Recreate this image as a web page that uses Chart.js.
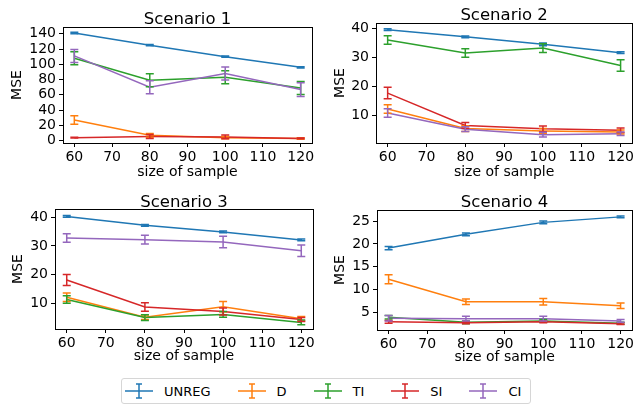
<!DOCTYPE html>
<html>
<head>
<meta charset="utf-8">
<script src="https://cdn.jsdelivr.net/npm/chart.js@4.4.1/dist/chart.umd.min.js"></script>
<style>
  body { margin:0; background:#fff; width:636px; height:405px; overflow:hidden; position:relative; font-family:"DejaVu Sans", sans-serif; }
  .pane { position:absolute; width:318px; height:185px; }
  #legend { position:absolute; left:121px; top:378px; width:405px; height:24px; border:1px solid #d6d6d6; border-radius:3px;
            display:flex; align-items:center; padding-left:3px; box-sizing:content-box; font-size:13px; color:#000; }
  .item { display:flex; align-items:center; margin-right:27px; }
  .item svg { margin-right:11px; }
</style>
</head>
<body>
<div class="pane" style="left:0;top:0"><canvas id="c1"></canvas></div>
<div class="pane" style="left:318px;top:0"><canvas id="c2"></canvas></div>
<div class="pane" style="left:0;top:185px"><canvas id="c3"></canvas></div>
<div class="pane" style="left:318px;top:185px"><canvas id="c4"></canvas></div>
<div id="legend"></div>
<script>
// data
const sampleSizes = [60, 80, 100, 120];
const methods = ['UNREG', 'D', 'TI', 'SI', 'CI'];
const colors = ['#1f77b4', '#ff7f0e', '#2ca02c', '#d62728', '#9467bd'];
const xTicks = [60, 70, 80, 90, 100, 110, 120];

// rows follow `methods`
const s1Values = [[141, 125, 110, 96], [27, 7, 4, 3], [108, 79, 83, 69], [4, 5.5, 5, 3], [111, 70, 88, 67]];
const s1Errors = [[1, 0.8, 0.8, 0.8], [5.5, 2.5, 1.5, 1], [8.5, 8.5, 8.5, 8.5], [0.5, 2.5, 2.5, 0.5], [8.5, 8.5, 8.5, 9]];
const s1Ticks = [0, 20, 40, 60, 80, 100, 120, 140];

const s2Values = [[39.7, 37.2, 34.6, 31.7], [12.2, 5.4, 4.6, 4.2], [36.1, 31.6, 33.3, 27.3], [17.7, 6.5, 5.3, 4.8], [10.8, 5.2, 3.3, 3.6]];
const s2Errors = [[0.3, 0.3, 0.5, 0.3], [1.5, 1, 0.8, 0.7], [1.5, 1.5, 1.5, 2], [2, 1, 1, 0.8], [1.5, 0.8, 0.8, 0.6]];
const s2Ticks = [10, 20, 30, 40];

const s3Values = [[40.3, 37.2, 34.9, 32.1], [12.1, 5.1, 8.8, 4.6], [11.3, 5.0, 6.1, 3.3], [18.1, 8.7, 7.1, 4.3], [32.8, 32.2, 31.4, 28.3]];
const s3Errors = [[0.3, 0.3, 0.3, 0.3], [1.5, 0.8, 1.8, 0.8], [1.3, 1, 1, 0.8], [1.9, 1.5, 1.2, 0.7], [1.5, 1.5, 2, 2]];
const s3Ticks = [10, 20, 30, 40];

const s4Values = [[19.1, 22.1, 24.7, 25.9], [12.3, 7.4, 7.4, 6.5], [4.0, 2.9, 3.2, 2.7], [3.0, 2.8, 3.0, 2.6], [3.8, 3.7, 3.7, 3.2]];
const s4Errors = [[0.35, 0.3, 0.3, 0.2], [1.0, 0.6, 0.7, 0.6], [0.4, 0.3, 0.3, 0.2], [0.3, 0.2, 0.2, 0.2], [0.6, 0.5, 0.5, 0.3]];
const s4Ticks = [5, 10, 15, 20, 25];

Chart.defaults.font.family = 'DejaVu Sans';
Chart.defaults.color = '#000';

// vertical error bars with caps, drawn through the chart's scales
const errorBars = {
  id: 'errorBars',
  afterDatasetsDraw(chart) {
    const { ctx, scales: { y } } = chart;
    ctx.save();
    ctx.beginPath();
    ctx.rect(chart.chartArea.left, chart.chartArea.top, chart.chartArea.width, chart.chartArea.height);
    ctx.clip();
    chart.data.datasets.forEach((ds, i) => {
      const meta = chart.getDatasetMeta(i);
      ctx.strokeStyle = ds.borderColor;
      ctx.lineWidth = 1.5;
      meta.data.forEach((pt, j) => {
        const v = ds.data[j].y, e = ds.errors[j];
        const top = y.getPixelForValue(v + e), bot = y.getPixelForValue(v - e);
        ctx.beginPath();
        ctx.moveTo(pt.x, top); ctx.lineTo(pt.x, bot);
        ctx.moveTo(pt.x - 4, top); ctx.lineTo(pt.x + 4, top);
        ctx.moveTo(pt.x - 4, bot); ctx.lineTo(pt.x + 4, bot);
        ctx.stroke();
      });
    });
    ctx.restore();
  }
};

// full box around the plot area like matplotlib spines, plus a title centred on the plot area
const frame = {
  id: 'frame',
  afterDraw(chart, args, opts) {
    const { ctx, chartArea: a } = chart;
    ctx.save();
    ctx.strokeStyle = '#000';
    ctx.lineWidth = 1;
    ctx.strokeRect(Math.round(a.left) + 0.5, Math.round(a.top) + 0.5, Math.round(a.width), Math.round(a.height));
    ctx.font = '16.5px "DejaVu Sans"';
    ctx.fillStyle = '#000';
    ctx.textAlign = 'center';
    ctx.textBaseline = 'alphabetic';
    ctx.fillText(opts.text, (a.left + a.right) / 2, opts.baseline);
    ctx.restore();
  }
};

function makeChart(id, title, values, errors, yTicks, yMin, yMax, box) {
  new Chart(document.getElementById(id), {
    type: 'line',
    data: {
      datasets: methods.map((m, i) => ({
        label: m,
        data: sampleSizes.map((s, j) => ({ x: s, y: values[i][j] })),
        errors: errors[i],
        borderColor: colors[i],
        backgroundColor: colors[i],
        borderWidth: 1.5,
        pointRadius: 0,
        tension: 0,
        fill: false,
        order: methods.length - i
      }))
    },
    options: {
      responsive: true,
      maintainAspectRatio: false,
      animation: false,
      events: [],
      layout: { padding: { left: 0, right: box.padRight, top: box.top, bottom: 0 } },
      plugins: {
        legend: { display: false },
        tooltip: { enabled: false },
        title: { display: false },
        frame: { text: title, baseline: box.titleBase }
      },
      scales: {
        x: {
          type: 'linear', min: 57, max: 123,
          afterBuildTicks: s => { s.ticks = xTicks.map(v => ({ value: v })); },
          afterFit: s => { s.height = box.xH; },
          ticks: { autoSkip: false, maxRotation: 0, padding: 2, font: { size: 14 }, color: '#000' },
          grid: { display: true, drawOnChartArea: false, drawTicks: true, tickLength: 4, color: '#000' },
          border: { display: false },
          title: { display: true, text: 'size of sample', font: { size: 14 }, color: '#000', padding: { top: 0, bottom: box.xTitlePad } }
        },
        y: {
          type: 'linear', min: yMin, max: yMax,
          afterBuildTicks: s => { s.ticks = yTicks.map(v => ({ value: v })); },
          afterFit: s => { s.width = box.yW; },
          ticks: { autoSkip: false, padding: 3, font: { size: 14 }, color: '#000' },
          grid: { display: true, drawOnChartArea: false, drawTicks: true, tickLength: 4, color: '#000' },
          border: { display: false },
          title: { display: true, text: 'MSE', font: { size: 14 }, color: '#000', padding: { top: box.yTitlePad, bottom: 0 } }
        }
      }
    },
    plugins: [errorBars, frame]
  });
}

makeChart('c1', 'Scenario 1', s1Values, s1Errors, s1Ticks, -3, 148.8,
  { yW: 63, padRight: 6, top: 27, titleBase: 24, xH: 42, yTitlePad: 8.6, xTitlePad: 4 });
makeChart('c2', 'Scenario 2', s2Values, s2Errors, s2Ticks, 0.4, 42,
  { yW: 58, padRight: 1, top: 23, titleBase: 20, xH: 42, yTitlePad: 13.6, xTitlePad: 4 });
makeChart('c3', 'Scenario 3', s3Values, s3Errors, s3Ticks, 1.0, 42.9,
  { yW: 55, padRight: 5, top: 24, titleBase: 22.3, xH: 41, yTitlePad: 10, xTitlePad: 4.8 });
makeChart('c4', 'Scenario 4', s4Values, s4Errors, s4Ticks, 1.22, 27.4,
  { yW: 59, padRight: 1, top: 25, titleBase: 21.7, xH: 40, yTitlePad: 13.6, xTitlePad: 4 });

// legend
const legend = document.getElementById('legend');
methods.forEach((m, i) => {
  const c = colors[i];
  legend.insertAdjacentHTML('beforeend',
    `<div class="item"><svg width="28" height="16" viewBox="0 0 28 16">
       <line x1="0" y1="8" x2="28" y2="8" stroke="${c}" stroke-width="1.5"/>
       <line x1="14" y1="1" x2="14" y2="15" stroke="${c}" stroke-width="1.5"/>
       <line x1="11" y1="1" x2="17" y2="1" stroke="${c}" stroke-width="1.5"/>
       <line x1="11" y1="15" x2="17" y2="15" stroke="${c}" stroke-width="1.5"/>
     </svg><span>${m}</span></div>`);
});
</script>
</body>
</html>
